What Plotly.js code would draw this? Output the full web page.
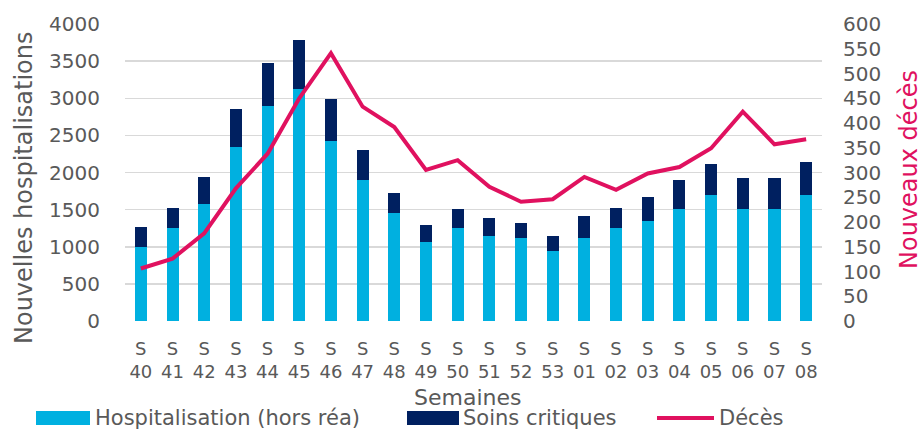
<!DOCTYPE html>
<html>
<head>
<meta charset="utf-8">
<script src="https://cdn.plot.ly/plotly-3.0.1.min.js"></script>
<style>html,body{margin:0;padding:0;background:#fff;}#chart{width:922px;height:430px;}</style>
</head>
<body>
<div id="chart"></div>
<script>
const weeks = ['40','41','42','43','44','45','46','47','48','49','50','51','52','53','01','02','03','04','05','06','07','08'];
const hospitalisation = [1000,1250,1570,2350,2900,3130,2430,1900,1450,1070,1250,1140,1120,945,1120,1250,1345,1515,1695,1515,1515,1695];
const soinsCritiques = [270,270,370,500,580,650,560,400,270,220,265,250,200,200,300,270,325,380,425,405,405,450];
const deces = [106,126,177,268,338,450,541,433,392,305,325,271,241,246,291,265,298,311,349,423,357,367];
const seriesNames = ['Hospitalisation (hors réa)', 'Soins critiques', 'Décès'];

const categories = weeks.map(w => 'S<br>' + w);
const FONT = 'DejaVu Sans, sans-serif';
const GREY = '#595959';
const PINK = '#E0115F';
const BLUE = '#00B0E0';
const NAVY = '#002060';

const traces = [
  {type:'bar', name:seriesNames[0], x:categories, y:hospitalisation,
   marker:{color:BLUE}, yaxis:'y'},
  {type:'bar', name:seriesNames[1], x:categories, y:soinsCritiques,
   marker:{color:NAVY}, yaxis:'y'},
  {type:'scatter', mode:'lines', name:seriesNames[2], x:categories, y:deces,
   line:{color:PINK, width:4}, yaxis:'y2'}
];

// plot area in pixels: x 125..822, y 24..321
const PL = 125, PW = 697, PT = 24, PH = 297;
const px = v => (v - PL) / PW;
const py = v => (PT + PH - v) / PH;

const legendY = 418;
const shapes = [
  {type:'rect', xref:'paper', yref:'paper', x0:px(36), x1:px(90), y0:py(411), y1:py(425),
   fillcolor:BLUE, line:{width:0}},
  {type:'rect', xref:'paper', yref:'paper', x0:px(407), x1:px(459), y0:py(411), y1:py(425),
   fillcolor:NAVY, line:{width:0}},
  {type:'line', xref:'paper', yref:'paper', x0:px(657), x1:px(714), y0:py(legendY), y1:py(legendY),
   line:{color:PINK, width:4}}
];

const annotations = [
  {text:seriesNames[0], xref:'paper', yref:'paper', x:px(93), y:py(legendY), xanchor:'left', yanchor:'middle',
   showarrow:false, font:{size:21, color:GREY, family:FONT}},
  {text:seriesNames[1], xref:'paper', yref:'paper', x:px(461), y:py(legendY), xanchor:'left', yanchor:'middle',
   showarrow:false, font:{size:21, color:GREY, family:FONT}},
  {text:seriesNames[2], xref:'paper', yref:'paper', x:px(717), y:py(legendY), xanchor:'left', yanchor:'middle',
   showarrow:false, font:{size:21, color:GREY, family:FONT}},
  {text:'Semaines', xref:'paper', yref:'paper', x:px(467), y:py(397), xanchor:'center', yanchor:'middle',
   showarrow:false, font:{size:22, color:GREY, family:FONT}},
  {text:'Nouvelles hospitalisations', xref:'paper', yref:'paper', x:px(24), y:py(188), xanchor:'center', yanchor:'middle',
   textangle:-90, showarrow:false, font:{size:24, color:GREY, family:FONT}},
  {text:'Nouveaux décès', xref:'paper', yref:'paper', x:px(909), y:py(170), xanchor:'center', yanchor:'middle',
   textangle:-90, showarrow:false, font:{size:24, color:PINK, family:FONT}}
];

const layout = {
  width:922, height:430,
  margin:{l:PL, r:922-PL-PW, t:PT, b:430-PT-PH},
  paper_bgcolor:'#fff', plot_bgcolor:'#fff',
  font:{family:FONT, color:GREY, size:19},
  barmode:'stack', bargap:0.62,
  showlegend:false,
  shapes:shapes,
  annotations:annotations,
  xaxis:{type:'category', tickangle:0, tickfont:{size:18, color:GREY}, showgrid:false,
         showline:false, zeroline:false, ticks:'', ticklabelstandoff:15, automargin:false},
  yaxis:{range:[0,4000], dtick:500, showgrid:true, gridcolor:'#D9D9D9', gridwidth:1.5,
         zeroline:false, showline:false, ticks:'', tickfont:{size:20, color:GREY},
         ticklabelstandoff:24, automargin:false},
  yaxis2:{range:[0,600], dtick:50, overlaying:'y', side:'right', showgrid:false,
          zeroline:false, showline:false, ticks:'', tickfont:{size:20, color:GREY},
          ticklabelstandoff:20, automargin:false}
};

Plotly.newPlot('chart', traces, layout, {displayModeBar:false, staticPlot:true});
</script>
</body>
</html>
